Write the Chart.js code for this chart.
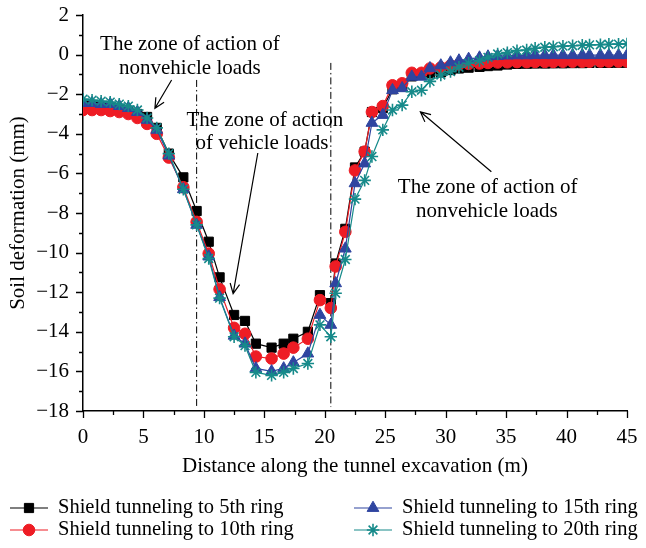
<!DOCTYPE html>
<html>
<head>
<meta charset="utf-8">
<script src="https://cdn.jsdelivr.net/npm/chart.js@4.4.1/dist/chart.umd.min.js"></script>
<style>
html,body{margin:0;padding:0;background:#fff}
</style>
</head>
<body>
<canvas id="soilChart" width="646" height="548"></canvas>
<script>

// distance along the tunnel (m)
let dist=[0,0.75,1.5,2.25,3.0,3.75,4.5,5.3,6.1,7.1,8.3,9.4,
10.4,11.3,12.5,13.4,14.3,15.6,16.6,17.4,18.6,19.6,20.5,20.9,
21.7,22.5,23.3,23.9,24.8,25.6,26.4,27.2,28.0,28.7,
29.6,30.4,31.1,31.9,32.8,33.5,34.3,35.1,35.9,36.7,
37.4,38.2,38.9,39.7,40.5,41.3,41.9,42.8,43.5,44.3,45.0]

let ring5=[-2.6,-2.6,-2.65,-2.7,-2.75,-2.85,-3.0,-3.15,-3.7,-5.0,-6.2,-7.9,
-9.45,-11.25,-13.15,-13.45,-14.6,-14.8,-14.6,-14.35,-14.0,-12.15,-12.55,-10.55,
-8.8,-5.7,-4.9,-2.9,-2.7,-1.75,-1.6,-1.1,-1.0,-0.95,
-0.9,-0.78,-0.7,-0.66,-0.62,-0.58,-0.55,-0.5,-0.47,-0.46,
-0.45,-0.45,-0.44,-0.44,-0.43,-0.43,-0.42,-0.42,-0.42,-0.41,-0.41]

let ring10=[-2.8,-2.8,-2.8,-2.85,-2.9,-3.0,-3.2,-3.5,-4.0,-5.2,-6.7,-8.45,
-10.05,-11.85,-13.8,-14.1,-15.25,-15.35,-15.1,-14.8,-14.35,-12.4,-12.8,-10.7,
-8.95,-5.85,-4.9,-2.9,-2.6,-1.55,-1.45,-0.92,-0.92,-0.7,
-0.65,-0.55,-0.5,-0.47,-0.45,-0.42,-0.4,-0.39,-0.38,-0.38,
-0.37,-0.37,-0.37,-0.36,-0.36,-0.36,-0.36,-0.35,-0.35,-0.35,-0.35]

let ring15=[-2.45,-2.45,-2.5,-2.5,-2.6,-2.7,-2.9,-3.3,-3.8,-5.1,-6.8,-8.6,
-10.2,-12.25,-14.2,-14.6,-15.85,-16.0,-15.85,-15.55,-15.1,-13.15,-13.65,-11.55,
-9.8,-6.5,-5.5,-3.45,-3.05,-1.8,-1.7,-1.12,-1.12,-0.69,
-0.55,-0.4,-0.3,-0.22,-0.15,-0.1,-0.07,-0.05,-0.04,-0.04,
-0.03,-0.03,-0.03,-0.03,-0.03,-0.03,-0.03,-0.03,-0.03,-0.03,-0.03]

let ring20=[-2.25,-2.3,-2.35,-2.4,-2.5,-2.6,-2.8,-3.2,-3.7,-5.0,-6.8,-8.6,
-10.3,-12.3,-14.25,-14.7,-16.05,-16.2,-16.05,-15.85,-15.6,-13.65,-14.25,-12.05,
-10.35,-7.3,-6.35,-5.15,-3.8,-2.8,-2.55,-1.88,-1.8,-1.35,
-1.03,-0.86,-0.64,-0.44,-0.31,-0.14,0.03,0.1,0.2,0.23,
0.32,0.37,0.4,0.43,0.45,0.47,0.49,0.5,0.52,0.53,0.54]

let names=["Shield tunneling to 5th ring","Shield tunneling to 10th ring","Shield tunneling to 15th ring","Shield tunneling to 20th ring"]
let colors=["#000000","#ee1c24","#2f45a0","#168a8a"]
let styles=["rect","circle","triangle","star"]
let radii=[6.5,5.8,6.8,6.2]

// zone borders (m)
let zoneLines=[9.4,20.5]

let serif="'Liberation Serif','Times New Roman',serif"

function pts(arr){
return arr.map((v,i)=>({x:dist[i],y:v}))
}

function minus(v){
return v<0 ? "\u2212"+Math.abs(v) : String(v)
}

let allSeries=[ring5,ring10,ring15,ring20]

let datasets=allSeries.map((s,i)=>({
label:names[i],
data:pts(s),
borderColor:colors[i],
backgroundColor:colors[i],
pointBackgroundColor:colors[i],
pointBorderColor:colors[i],
pointStyle:styles[i],
pointRadius:radii[i],
pointBorderWidth:i==3?1.6:1,
borderWidth:1.2,
tension:0,
order:4-i
}))

function arrow(ctx,x1,y1,x2,y2){
ctx.beginPath()
ctx.moveTo(x1,y1)
ctx.lineTo(x2,y2)
let a=Math.atan2(y2-y1,x2-x1)
let h=11
ctx.moveTo(x2-h*Math.cos(a-0.45),y2-h*Math.sin(a-0.45))
ctx.lineTo(x2,y2)
ctx.lineTo(x2-h*Math.cos(a+0.45),y2-h*Math.sin(a+0.45))
ctx.stroke()
}

let decor={
id:"decor",
beforeDatasetsDraw(chart){
let ctx=chart.ctx, x=chart.scales.x, y=chart.scales.y
ctx.save()
ctx.strokeStyle="#000"
ctx.lineWidth=1
ctx.setLineDash([7,3,1.5,3])
let tops=[-1.28,-0.42]
zoneLines.forEach((z,i)=>{
ctx.beginPath()
ctx.moveTo(x.getPixelForValue(z),y.getPixelForValue(tops[i]))
ctx.lineTo(x.getPixelForValue(z),y.getPixelForValue(-17.8))
ctx.stroke()
})
ctx.restore()
},
afterDraw(chart){
let ctx=chart.ctx, x=chart.scales.x, y=chart.scales.y, a=chart.chartArea
ctx.save()
ctx.strokeStyle="#000"
ctx.lineWidth=1.3
ctx.beginPath()
for(let v=0;v<=45;v+=2.5){
let px=Math.round(x.getPixelForValue(v))+0.5
ctx.moveTo(px,a.bottom)
ctx.lineTo(px,a.bottom+(v%5==0?7:4))
}
for(let v=-18;v<=2;v+=1){
let py=Math.round(y.getPixelForValue(v))+0.5
ctx.moveTo(a.left,py)
ctx.lineTo(a.left-(v%2==0?7:4),py)
}
ctx.stroke()

// axis titles
ctx.fillStyle="#000"
ctx.font="21px "+serif
ctx.textAlign="center"
ctx.textBaseline="middle"
ctx.fillText("Distance along the tunnel excavation (m)",(a.left+a.right)/2,466)
ctx.save()
ctx.translate(18,(a.top+a.bottom)/2)
ctx.rotate(-Math.PI/2)
ctx.fillText("Soil deformation (mm)",0,0)
ctx.restore()

// zone notes
ctx.font="21px "+serif
let notes=[
["The zone of action of",8.84,0.49],["nonvehicle loads",8.84,-0.68],
["The zone of action",15.04,-3.31],["of vehicle loads",14.8,-4.47],
["The zone of action of",33.47,-6.69],["nonvehicle loads",33.4,-7.9]
]
notes.forEach(n=>ctx.fillText(n[0],x.getPixelForValue(n[1]),y.getPixelForValue(n[2])))
ctx.lineWidth=1.2
let arrows=[[7.33,-1.28,5.95,-2.71],[14.46,-4.97,12.42,-12.07],[33.78,-5.92,27.91,-2.89]]
arrows.forEach(r=>arrow(ctx,x.getPixelForValue(r[0]),y.getPixelForValue(r[1]),x.getPixelForValue(r[2]),y.getPixelForValue(r[3])))

// legend
let cols=[10,354], rows=[508,530]
let place=[[0,0],[0,1],[1,0],[1,1]]
ctx.font="20.5px "+serif
ctx.textAlign="left"
names.forEach((n,i)=>{
let lx=cols[place[i][0]], ly=rows[place[i][1]]
ctx.strokeStyle=colors[i]
ctx.fillStyle=colors[i]
ctx.lineWidth=1.2
ctx.beginPath()
ctx.moveTo(lx,ly)
ctx.lineTo(lx+38,ly)
ctx.stroke()
ctx.lineWidth=i==3?1.6:1
Chart.helpers.drawPoint(ctx,{pointStyle:styles[i],radius:radii[i],rotation:0,borderWidth:ctx.lineWidth},lx+19,ly)
ctx.fillStyle="#000"
ctx.fillText(n,lx+48,ly)
})
ctx.restore()
}
}

new Chart(document.getElementById("soilChart"),{
type:"line",
data:{datasets:datasets},
options:{
responsive:false,
animation:false,
devicePixelRatio:1,
layout:{padding:{top:15,right:19,left:0,bottom:0}},
plugins:{legend:{display:false},tooltip:{enabled:false}},
scales:{
x:{
type:"linear",min:0,max:45,
ticks:{stepSize:5,color:"#000",font:{family:serif,size:21},padding:14,maxRotation:0},
grid:{display:false,drawTicks:false},
border:{color:"#000",width:1.5},
afterFit:s=>{s.height=137;s.paddingLeft=0;s.paddingRight=0}
},
y:{
min:-18,max:2,
ticks:{stepSize:2,color:"#000",font:{family:serif,size:21},padding:14,callback:v=>minus(v)},
grid:{display:false,drawTicks:false},
border:{color:"#000",width:1.5},
afterFit:s=>{s.width=83;s.paddingTop=0;s.paddingBottom=0}
}
}
},
plugins:[decor]
})

</script>
</body>
</html>
